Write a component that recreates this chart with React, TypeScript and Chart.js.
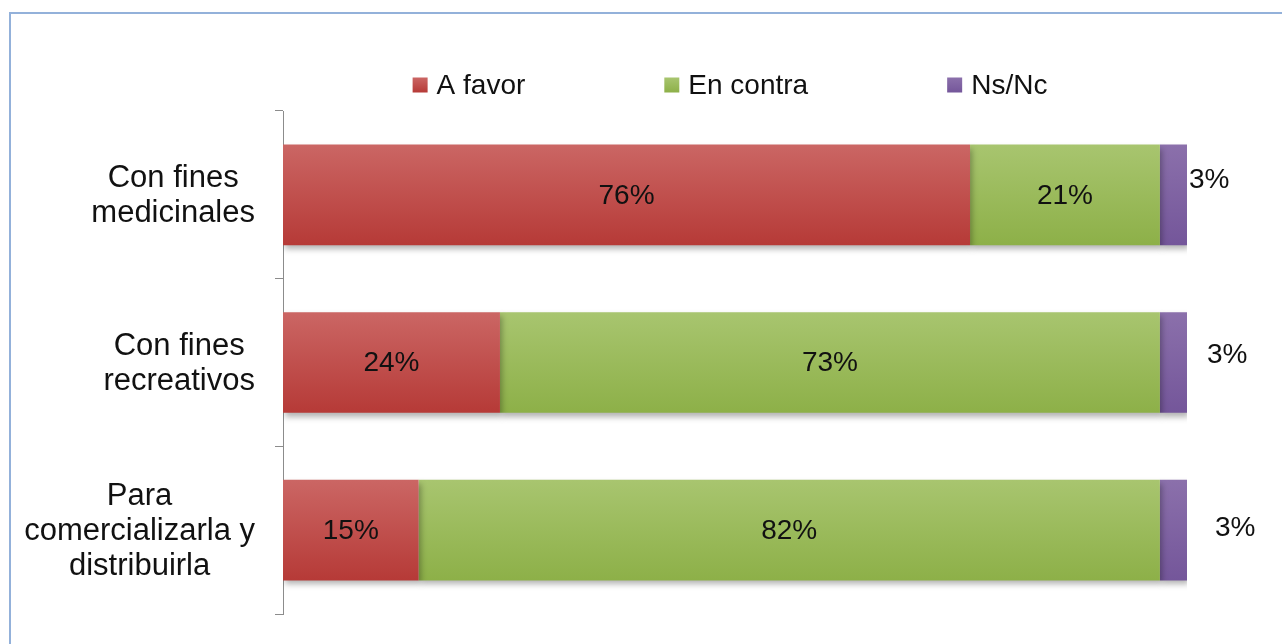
import React, { useEffect, useRef } from "react";
import { Chart, registerables } from "chart.js";

Chart.register(...registerables);

const categories: string[][] = [
  ["Con fines", "medicinales"],
  ["Con fines", "recreativos"],
  ["Para", "comercializarla y", "distribuirla"],
];
const seriesNames = ["A favor", "En contra", "Ns/Nc"];
const aFavor = [76, 24, 15];
const enContra = [21, 73, 82];
const nsNc = [3, 3, 3];

const gradients: [string, string][] = [
  ["#cb6664", "#b63a37"],
  ["#a8c56f", "#8db048"],
  ["#8b70ab", "#74569a"],
];

const FONT = "'Liberation Sans', Arial, sans-serif";

export default function App() {
  const ref = useRef<HTMLCanvasElement | null>(null);

  useEffect(() => {
    if (!ref.current) return;

    const makeBg = (si: number) => (ctx: any) => {
      const chart = ctx.chart;
      const ys = chart.scales?.y;
      const [top, bot] = gradients[si];
      if (!ys || !chart.chartArea || ctx.dataIndex === undefined) return top;
      const c = ys.getPixelForValue(ctx.dataIndex);
      const half = (ys.height / categories.length) * 0.3;
      const g = chart.ctx.createLinearGradient(0, c - half, 0, c + half);
      g.addColorStop(0, top);
      g.addColorStop(1, bot);
      return g;
    };

    const shadowPlugin = {
      id: "barShadow",
      beforeDatasetsDraw(chart: any) {
        const ctx = chart.ctx;
        ctx.save();
        ctx.shadowColor = "rgba(0,0,0,0.3)";
        ctx.shadowBlur = 6;
        ctx.shadowOffsetX = 2;
        ctx.shadowOffsetY = 4;
      },
      afterDatasetsDraw(chart: any) {
        chart.ctx.restore();
      },
    };

    const outsideOffsets = [
      { dx: 2, dy: -15 },
      { dx: 20, dy: -7 },
      { dx: 28, dy: -2 },
    ];

    const labelPlugin = {
      id: "valueLabels",
      afterDatasetsDraw(chart: any) {
        const ctx = chart.ctx;
        ctx.save();
        ctx.font = `28px ${FONT}`;
        ctx.fillStyle = "#111";
        ctx.textBaseline = "middle";
        chart.data.datasets.forEach((ds: any, di: number) => {
          const meta = chart.getDatasetMeta(di);
          meta.data.forEach((bar: any, i: number) => {
            const v = ds.data[i];
            const text = `${v}%`;
            if (di === 2) {
              const o = outsideOffsets[i];
              ctx.textAlign = "left";
              ctx.fillText(text, bar.x + o.dx, bar.y + o.dy);
            } else {
              ctx.textAlign = "center";
              ctx.fillText(text, (bar.x + bar.base) / 2, bar.y + 1);
            }
          });
        });
        ctx.restore();
      },
    };

    const categoryLabelPlugin = {
      id: "categoryLabels",
      afterDraw(chart: any) {
        const ctx = chart.ctx;
        const ys = chart.scales.y;
        const right = chart.chartArea.left - 28;
        const lineH = 35;
        ctx.save();
        ctx.font = `31px ${FONT}`;
        ctx.fillStyle = "#111";
        ctx.textAlign = "center";
        ctx.textBaseline = "middle";
        categories.forEach((lines, i) => {
          const cy = ys.getPixelForValue(i);
          const w = Math.max(...lines.map((l) => ctx.measureText(l).width));
          const cx = right - w / 2;
          const y0 = cy - ((lines.length - 1) * lineH) / 2;
          lines.forEach((l, k) => ctx.fillText(l, cx, y0 + k * lineH + 1));
        });
        ctx.restore();
      },
    };

    const legendPlugin = {
      id: "customLegend",
      afterDraw(chart: any) {
        const ctx = chart.ctx;
        const area = chart.chartArea;
        ctx.save();
        ctx.font = `28px ${FONT}`;
        const box = 15;
        const gapBoxText = 9;
        const gapItems = 139;
        const widths = seriesNames.map((n) => box + gapBoxText + ctx.measureText(n).width);
        const total = widths.reduce((a, b) => a + b, 0) + gapItems * (seriesNames.length - 1);
        let x = (area.left + area.right) / 2 - total / 2 - 5;
        const y = 85;
        seriesNames.forEach((n, i) => {
          const g = ctx.createLinearGradient(0, y - box / 2, 0, y + box / 2);
          g.addColorStop(0, gradients[i][0]);
          g.addColorStop(1, gradients[i][1]);
          ctx.fillStyle = g;
          ctx.fillRect(x, y - box / 2, box, box);
          ctx.fillStyle = "#111";
          ctx.textAlign = "left";
          ctx.textBaseline = "middle";
          ctx.fillText(n, x + box + gapBoxText, y + 1);
          x += widths[i] + gapItems;
        });
        ctx.restore();
      },
    };

    const chart = new Chart(ref.current, {
      type: "bar",
      data: {
        labels: categories.map((c) => c.join(" ")),
        datasets: [
          { label: seriesNames[0], data: aFavor, backgroundColor: makeBg(0) },
          { label: seriesNames[1], data: enContra, backgroundColor: makeBg(1) },
          { label: seriesNames[2], data: nsNc, backgroundColor: makeBg(2) },
        ],
      },
      options: {
        indexAxis: "y",
        animation: false,
        responsive: false,
        maintainAspectRatio: false,
        datasets: { bar: { barPercentage: 0.6, categoryPercentage: 1.0 } },
        layout: { padding: { top: 111, bottom: 30, left: 40, right: 95 } },
        plugins: { legend: { display: false }, tooltip: { enabled: false } },
        scales: {
          x: { stacked: true, min: 0, max: 100, display: false },
          y: {
            stacked: true,
            afterFit: (s: any) => {
              s.width = 243;
              s.paddingTop = 0;
              s.paddingBottom = 0;
            },
            grid: {
              drawOnChartArea: false,
              drawTicks: true,
              tickLength: 8,
              color: "#8c8c8c",
              offset: true,
            },
            border: { display: true, color: "#8c8c8c", width: 1 },
            ticks: { display: false },
          },
        },
      },
      plugins: [shadowPlugin, labelPlugin, categoryLabelPlugin, legendPlugin],
    });
    return () => chart.destroy();
  }, []);

  return (
    <div style={{ position: "fixed", left: 0, top: 0, width: 1282, height: 644, overflow: "hidden", background: "#fff" }}>
      <div
        style={{
          position: "absolute",
          left: 9,
          top: 12,
          width: 1300,
          height: 700,
          border: "2px solid #93b1da",
          boxSizing: "border-box",
        }}
      />
      <canvas ref={ref} width={1282} height={644} style={{ position: "absolute", left: 0, top: 0 }} />
    </div>
  );
}
